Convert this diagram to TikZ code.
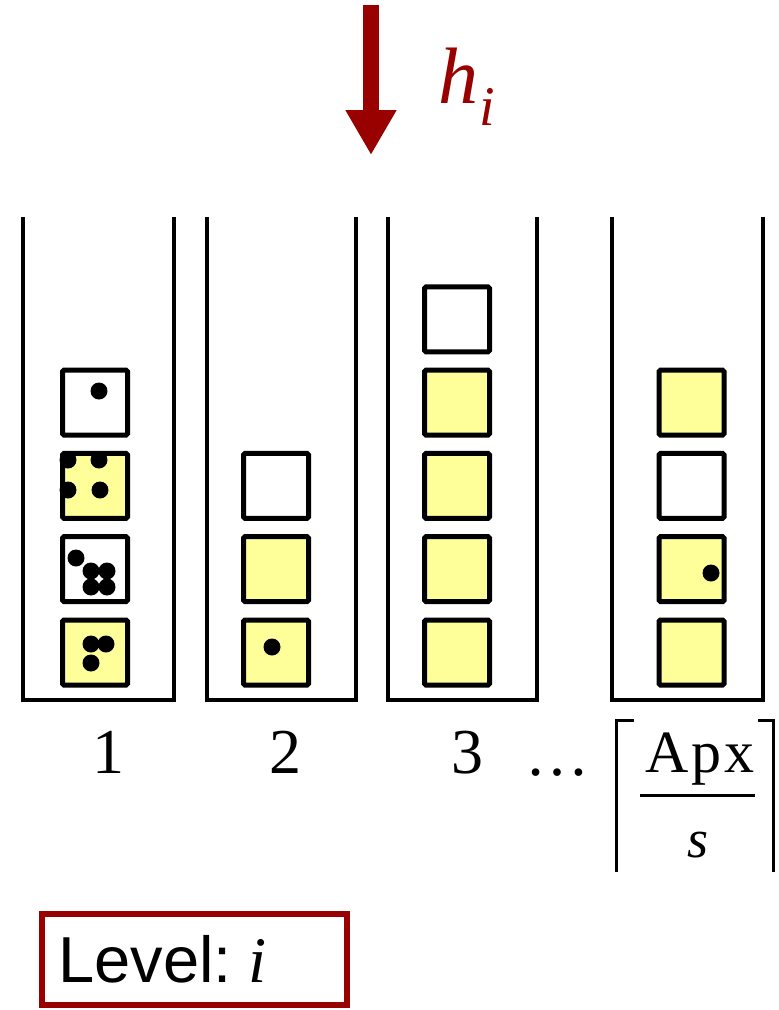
\documentclass[tikz,border=0pt]{standalone}
\usepackage{fontspec}
\setmainfont{Liberation Serif}
\newfontfamily\sansfam{Liberation Sans}
\usetikzlibrary{arrows.meta}
\definecolor{darkred}{HTML}{990000}
\definecolor{boxyellow}{HTML}{FFFF99}
\begin{document}
\begin{tikzpicture}[x=1pt,y=-1pt,
  wall/.style={line width=4pt},
  cell/.style={draw, line width=5pt, minimum size=65pt, inner sep=0pt, rounded corners=1.5pt, fill=white},
  full/.style={cell, fill=boxyellow},
  dot/.style={circle, fill=black, inner sep=0pt, minimum size=17pt},
  lab/.style={anchor=base, font=\fontsize{64}{70}\selectfont, inner sep=0pt},
  brk/.style={line width=3pt}]
\useasboundingbox (0,0) rectangle (779,1010);

% walls
\draw[wall] (23,217) -- (23,700) -- (174,700) -- (174,217);
\draw[wall] (207,217) -- (207,700) -- (356,700) -- (356,217);
\draw[wall] (388,217) -- (388,700) -- (537,700) -- (537,217);
\draw[wall] (612,217) -- (612,700) -- (763,700) -- (763,217);

% column 1
\node[cell] (a1) at (95,402.6) {};
\node[full] (a2) at (95,485.9) {};
\node[cell] (a3) at (95,569.2) {};
\node[full] (a4) at (95,652.5) {};
% column 2
\node[cell] (b2) at (276,485.9) {};
\node[full] (b3) at (276,569.2) {};
\node[full] (b4) at (276,652.5) {};
% column 3
\node[cell] (c0) at (457,319.3) {};
\node[full] (c1) at (457,402.6) {};
\node[full] (c2) at (457,485.9) {};
\node[full] (c3) at (457,569.2) {};
\node[full] (c4) at (457,652.5) {};
% column 4
\node[full] (d1) at (691.5,402.6) {};
\node[cell] (d2) at (691.5,485.9) {};
\node[full] (d3) at (691.5,569.2) {};
\node[full] (d4) at (691.5,652.5) {};

% dots
\node[dot] (p1) at (99,391) {};
\node[dot] (p2) at (68,460) {};
\node[dot] (p3) at (99,460) {};
\node[dot] (p4) at (68,490) {};
\node[dot] (p5) at (100,490) {};
\node[dot] (p6) at (76,558) {};
\node[dot] (p7) at (91,571) {};
\node[dot] (p8) at (107,571) {};
\node[dot] (p9) at (91,587) {};
\node[dot] (p10) at (107,587) {};
\node[dot] (p11) at (91,644) {};
\node[dot] (p12) at (106,644) {};
\node[dot] (p13) at (91,663) {};
\node[dot] (p14) at (272,647) {};
\node[dot] (p15) at (711,573) {};

% arrow
\coordinate (as) at (371,5);
\coordinate (ae) at (371,155);
\draw[darkred, line width=16pt, -{Triangle[width=48pt,length=45pt]}] (as) -- (ae);
\node[anchor=base west, inner sep=0pt, text=darkred, font=\fontsize{80}{90}\selectfont\itshape] (h) at (438,103) {h};
\node[anchor=base west, inner sep=0pt, text=darkred, font=\fontsize{56}{60}\selectfont\itshape] (hi) at (479,125) {i};

% labels
\node[lab] (n1) at (108,773) {1};
\node[lab] (n2) at (285,773) {2};
\node[lab] (n3) at (467,773) {3};
\node[lab] (dots) at (557,775) {…};

% ceiling fraction
\node[anchor=base, inner sep=0pt, font=\fontsize{60}{64}\selectfont] (apx) at (700,772) {A\kern2.5pt p\kern2.5pt x};
\node[anchor=base, inner sep=0pt, font=\fontsize{54}{58}\selectfont\itshape] (s) at (698,857) {s};
\draw[brk] (640,795) -- (755,795);
\draw[brk] (634,720) -- (616,720) -- (616,872);
\draw[brk] (758,720) -- (773,720) -- (773,872);

% level box
\node[draw=darkred, line width=6pt, anchor=west, inner xsep=16.5pt, inner ysep=0pt,
      text width=272pt, minimum height=91pt, align=left,
      font=\sansfam\fontsize{65}{70}\selectfont] (level) at (39,959.5) {Level:\kern17pt{\rmfamily\itshape i}};
\end{tikzpicture}
\end{document}
